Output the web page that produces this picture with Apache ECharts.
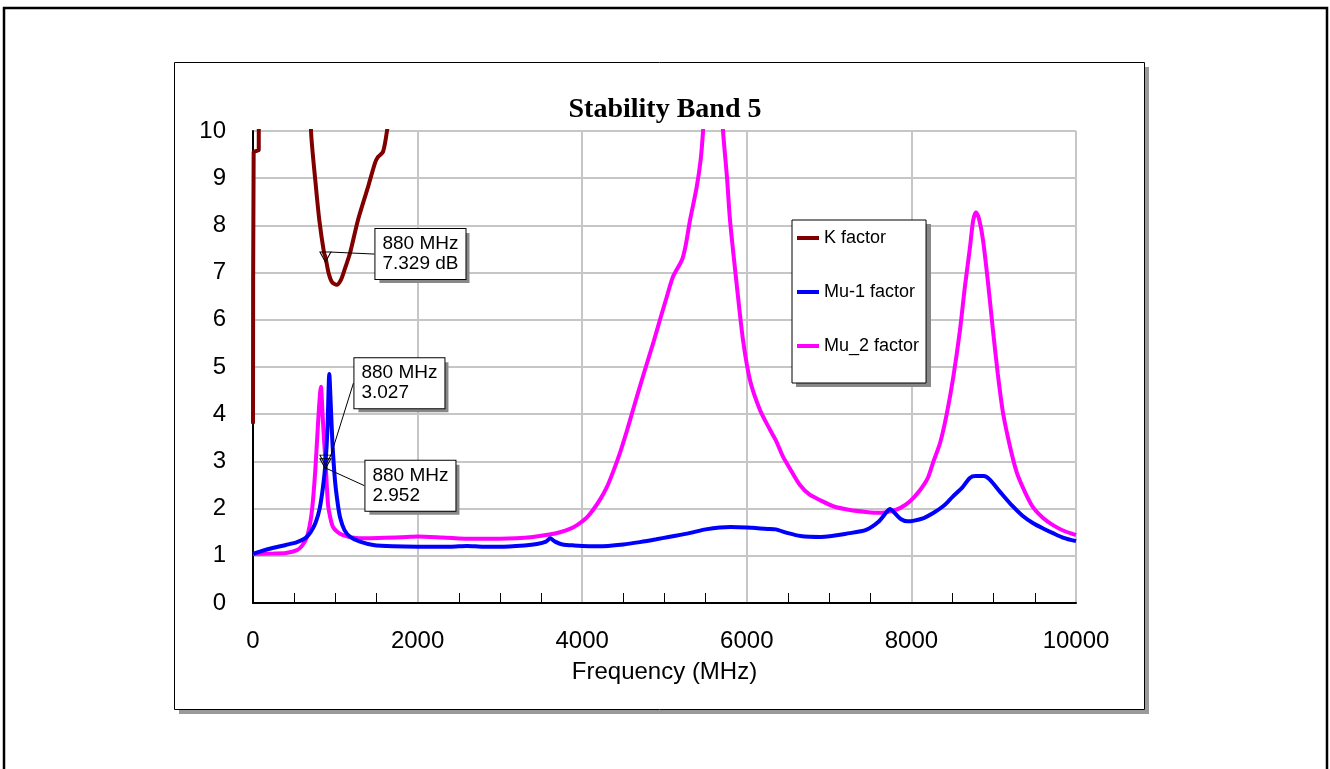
<!DOCTYPE html>
<html>
<head>
<meta charset="utf-8">
<script src="https://cdn.jsdelivr.net/npm/echarts@6/dist/echarts.min.js"></script>
<style>
html,body{margin:0;padding:0;background:#fff;}
#c{width:1330px;height:769px;}
</style>
</head>
<body>
<div id="c"></div>
<script>
// ---- data ----
const seriesNames = ['K factor', 'Mu-1 factor', 'Mu_2 factor'];
const xTicks = [0, 2000, 4000, 6000, 8000, 10000];
const yTicks = [0, 1, 2, 3, 4, 5, 6, 7, 8, 9, 10];

const kFreq = [0, 8, 45, 70, 80, 640, 705, 760, 806, 863, 880, 920, 960, 1017, 1070, 1120, 1180, 1275, 1397, 1482, 1519, 1580, 1628, 1700, 2000];
const kVal  = [3.8, 9.55, 9.58, 9.6, 40, 14, 10, 8.9, 8.11, 7.42, 7.329, 6.98, 6.8, 6.74, 6.85, 7.1, 7.42, 8.11, 8.81, 9.32, 9.45, 9.56, 10, 11, 14];

const mu1Freq = [0, 100, 250, 400, 535, 640, 700, 760, 810, 850, 880, 905, 927, 945, 965, 996, 1030, 1060, 1110, 1180, 1300, 1460, 1700, 2000, 2400, 2600, 2800, 3000, 3300, 3450, 3560, 3610, 3670, 3760, 3900, 4200, 4500, 4700, 4900, 5050, 5300, 5500, 5800, 6000, 6250, 6350, 6500, 6650, 6900, 7250, 7450, 7600, 7700, 7740, 7800, 7870, 7950, 8020, 8150, 8260, 8400, 8500, 8620, 8710, 8780, 8880, 8950, 9080, 9230, 9350, 9480, 9600, 9720, 9850, 10000];
const mu1Val  = [1.04, 1.10, 1.17, 1.23, 1.29, 1.38, 1.50, 1.70, 2.0, 2.45, 2.952, 3.7, 4.85, 4.2, 3.4, 2.6, 2.1, 1.8, 1.55, 1.40, 1.30, 1.23, 1.20, 1.19, 1.19, 1.21, 1.19, 1.19, 1.22, 1.25, 1.30, 1.37, 1.30, 1.24, 1.22, 1.20, 1.24, 1.29, 1.35, 1.40, 1.48, 1.56, 1.61, 1.60, 1.57, 1.56, 1.48, 1.42, 1.40, 1.48, 1.55, 1.72, 1.93, 1.99, 1.90, 1.78, 1.73, 1.74, 1.80, 1.90, 2.07, 2.25, 2.45, 2.65, 2.69, 2.69, 2.62, 2.35, 2.05, 1.85, 1.69, 1.58, 1.48, 1.38, 1.31];

const mu2Freq = [0, 250, 400, 535, 600, 656, 700, 729, 760, 790, 815, 826, 845, 865, 880, 911, 940, 972, 1030, 1094, 1200, 1385, 1600, 1871, 2000, 2300, 2673, 3000, 3200, 3402, 3600, 3730, 3850, 3937, 4050, 4131, 4220, 4301, 4380, 4459, 4540, 4617, 4700, 4787, 4870, 4945, 5030, 5103, 5213, 5260, 5310, 5391, 5440, 5468, 5500, 5590, 5680, 5711, 5760, 5796, 5881, 5954, 6039, 6160, 6282, 6360, 6440, 6540, 6646, 6760, 6890, 7050, 7254, 7450, 7618, 7760, 7861, 7980, 8104, 8200, 8262, 8350, 8432, 8510, 8590, 8650, 8712, 8750, 8785, 8820, 8870, 8930, 8991, 9050, 9113, 9200, 9283, 9380, 9477, 9600, 9720, 9850, 10000];
const mu2Val  = [1.04, 1.05, 1.06, 1.12, 1.22, 1.4, 1.75, 2.18, 2.9, 3.8, 4.45, 4.58, 4.0, 3.4, 3.027, 2.1, 1.8, 1.61, 1.50, 1.44, 1.39, 1.37, 1.38, 1.40, 1.41, 1.39, 1.36, 1.36, 1.37, 1.40, 1.45, 1.50, 1.57, 1.65, 1.80, 1.97, 2.2, 2.46, 2.8, 3.18, 3.63, 4.09, 4.58, 5.08, 5.55, 6.0, 6.5, 6.91, 7.27, 7.6, 8.11, 8.81, 9.4, 10.0, 11, 12, 11, 10, 9.0, 8.11, 6.69, 5.57, 4.72, 4.09, 3.67, 3.42, 3.1, 2.8, 2.50, 2.30, 2.18, 2.05, 1.97, 1.93, 1.91, 1.95, 2.01, 2.15, 2.39, 2.65, 2.97, 3.4, 4.03, 4.8, 5.78, 6.7, 7.54, 8.1, 8.28, 8.15, 7.69, 6.8, 5.78, 4.85, 4.03, 3.3, 2.75, 2.35, 2.03, 1.8, 1.65, 1.53, 1.44];

const markerFreq = [880, 880, 880];
const markerVal = [7.329, 3.027, 2.952];
const markerText = ['880 MHz\n7.329 dB', '880 MHz\n3.027', '880 MHz\n2.952'];

// ---- styling ----
const colors = ['#800000', '#0000ff', '#ff00ff'];
const labelOffsets = [[50, -28], [29, -102], [40, -3]];
const SHADOW = 4;
const FONT = 'Arial, "Liberation Sans", sans-serif';

function zip(a, b) { return a.map((v, i) => [v, b[i]]); }

const chart = echarts.init(document.getElementById('c'), null, {renderer: 'canvas'});

const lineStyleBase = (c) => ({ color: c, width: 4 });

const labelBase = {
  show: true, position: 'right',
  fontFamily: FONT, fontSize: 19, lineHeight: 20,
  padding: [5, 7, 5, 7]
};

function makeLayout(extra) {
  return function (params) {
    const off = labelOffsets[params.dataIndex];
    const cx = params.rect.x + params.rect.width / 2;
    const cy = params.rect.y + params.rect.height / 2;
    return { x: cx + off[0] + extra, y: cy + off[1] + extra, align: 'left', verticalAlign: 'top' };
  };
}

const markerData = markerFreq.map((f, i) => ({ value: [f, markerVal[i]], label: { formatter: markerText[i] } }));

chart.setOption({
  animation: false,
  backgroundColor: '#fff',
  graphic: [
    { type: 'rect', z: -12, silent: true, shape: { x: 4, y: 8, width: 1323, height: 900 },
      style: { fill: '#fff', stroke: '#000', lineWidth: 2.5 } },
    { type: 'rect', z: -11, silent: true, shape: { x: 179, y: 67, width: 970, height: 647 },
      style: { fill: '#9a9a9a' } },
    { type: 'rect', z: -10, silent: true, shape: { x: 174.5, y: 62.5, width: 970, height: 647 },
      style: { fill: '#fff', stroke: '#000', lineWidth: 1 } },
    { type: 'rect', z: 1, silent: true, shape: { x: 792 + SHADOW, y: 220 + SHADOW, width: 135, height: 163 },
      style: { fill: '#888' } }
  ],
  title: {
    text: 'Stability Band 5',
    left: 'center',
    top: 91,
    textStyle: { fontFamily: '"Liberation Serif", "Times New Roman", serif', fontWeight: 'bold', fontSize: 28, color: '#000' }
  },
  legend: {
    data: seriesNames,
    orient: 'vertical',
    left: 792, top: 220,
    padding: [8, 7, 27, 5],
    itemGap: 34,
    itemWidth: 22, itemHeight: 4,
    icon: 'rect',
    backgroundColor: '#fff',
    borderColor: '#000', borderWidth: 1,
    textStyle: { fontFamily: FONT, fontSize: 18, color: '#000', lineHeight: 20 }
  },
  grid: {
    left: 253, top: 131, right: 254, bottom: 166,
    show: true, borderColor: '#000', borderWidth: 1, backgroundColor: 'transparent'
  },
  xAxis: {
    type: 'value', min: xTicks[0], max: xTicks[xTicks.length - 1], interval: 2000,
    name: 'Frequency (MHz)', nameLocation: 'middle', nameGap: 57,
    nameTextStyle: { fontFamily: FONT, fontSize: 24, color: '#000' },
    axisLine: { show: true, onZero: false, lineStyle: { color: '#000', width: 2 } },
    axisTick: { show: false, inside: true },
    minorTick: { show: true, splitNumber: 4, length: 10, lineStyle: { color: '#000', width: 1 } },
    axisLabel: { fontFamily: FONT, fontSize: 24, color: '#000', margin: 26, formatter: (v) => String(v) },
    splitLine: { show: true, lineStyle: { color: '#c6c6c6', width: 2 } }
  },
  yAxis: {
    type: 'value', min: yTicks[0], max: yTicks[yTicks.length - 1], interval: 1,
    axisLine: { show: true, onZero: false, lineStyle: { color: '#000', width: 2 } },
    axisTick: { show: false },
    axisLabel: { fontFamily: FONT, fontSize: 24, color: '#000', margin: 27, formatter: (v) => String(v) },
    splitLine: { show: true, lineStyle: { color: '#c6c6c6', width: 2 } }
  },
  series: [
    { name: seriesNames[0], type: 'line', data: zip(kFreq, kVal), showSymbol: false, smooth: 0.25,
      color: colors[0], lineStyle: lineStyleBase(colors[0]), z: 3 },
    { name: seriesNames[1], type: 'line', data: zip(mu1Freq, mu1Val), showSymbol: false, smooth: 0.25,
      color: colors[1], lineStyle: lineStyleBase(colors[1]), z: 4 },
    { name: seriesNames[2], type: 'line', data: zip(mu2Freq, mu2Val), showSymbol: false, smooth: 0.25,
      color: colors[2], lineStyle: lineStyleBase(colors[2]), z: 3 },
    { name: 'markerShadow', type: 'scatter', z: 5, silent: true,
      data: markerData,
      symbol: 'triangle', symbolRotate: 180, symbolSize: [11, 10],
      itemStyle: { color: 'rgba(0,0,0,0)', borderWidth: 0, opacity: 1 },
      label: Object.assign({}, labelBase, { color: '#888', backgroundColor: '#888' }),
      labelLayout: makeLayout(SHADOW),
      emphasis: { disabled: true }
    },
    { name: 'markers', type: 'scatter', z: 6, silent: true,
      data: markerData,
      symbol: 'triangle', symbolRotate: 180, symbolSize: [11, 10],
      itemStyle: { color: 'rgba(255,255,255,0)', borderColor: '#000', borderWidth: 1, opacity: 1 },
      label: Object.assign({}, labelBase, { color: '#000', backgroundColor: '#fff', borderColor: '#000', borderWidth: 1 }),
      labelLine: { show: true, lineStyle: { color: '#000', width: 1 } },
      labelLayout: makeLayout(0),
      emphasis: { disabled: true }
    }
  ]
});
</script>
</body>
</html>
